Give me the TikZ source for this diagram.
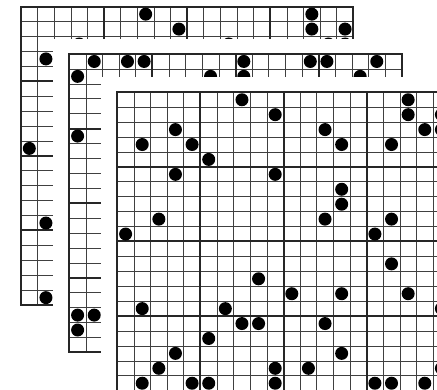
\documentclass[tikz,border=0pt]{standalone}
\usepackage{tikz}

\begin{document}
\begin{tikzpicture}[x=1pt, y=-1pt,
  sheet/.style={fill=white},
  fine/.style={draw=black!75, line width=0.65pt},
  bold/.style={draw=black!85, line width=2pt},
  stone/.style={fill=black}]
\useasboundingbox (0,0) rectangle (437,390);
\clip (0,0) rectangle (437,390);
\foreach \px/\py/\stones in {
  21/6.7/{7/0,17/0,9/1,17/1,19/1,3/2,12/2,18/2,19/2,1/3,0/9,1/14,1/19},
  69.3/54/{1/0,3/0,4/0,10/0,14/0,15/0,18/0,0/1,8/1,10/1,17/1,0/5,0/17,1/17,0/18},
  117.3/92.3/{7/0,17/0,9/1,17/1,19/1,3/2,12/2,18/2,19/2,1/3,4/3,13/3,16/3,5/4,3/5,9/5,13/6,13/7,2/8,12/8,16/8,0/9,15/9,16/11,8/12,10/13,13/13,17/13,1/14,6/14,19/14,7/15,8/15,12/15,5/16,3/17,13/17,2/18,9/18,11/18,19/18,1/19,4/19,5/19,9/19,15/19,16/19,18/19}}{
  \begin{scope}[shift={(\px,\py)}]
    \fill[sheet] (-16.62,-14.92) rectangle (349.02,313.32);
    \foreach \k in {1,...,19}{
      \draw[fine] ({16.62*\k},0) -- ({16.62*\k},298.4);
      \draw[fine] (0,{14.92*\k}) -- (332.4,{14.92*\k});
    }
    \foreach \k in {5,10,15}{
      \draw[bold] ({16.62*\k},0) -- ({16.62*\k},298.4);
      \draw[bold] (0,{14.92*\k}) -- (332.4,{14.92*\k});
    }
    \draw[bold] (0,0) rectangle (332.4,298.4);
    \foreach \c/\r in \stones \fill[stone] ({16.62*\c+8.31},{14.92*\r+7.46}) circle (6.5);
  \end{scope}
}
\end{tikzpicture}
\end{document}
